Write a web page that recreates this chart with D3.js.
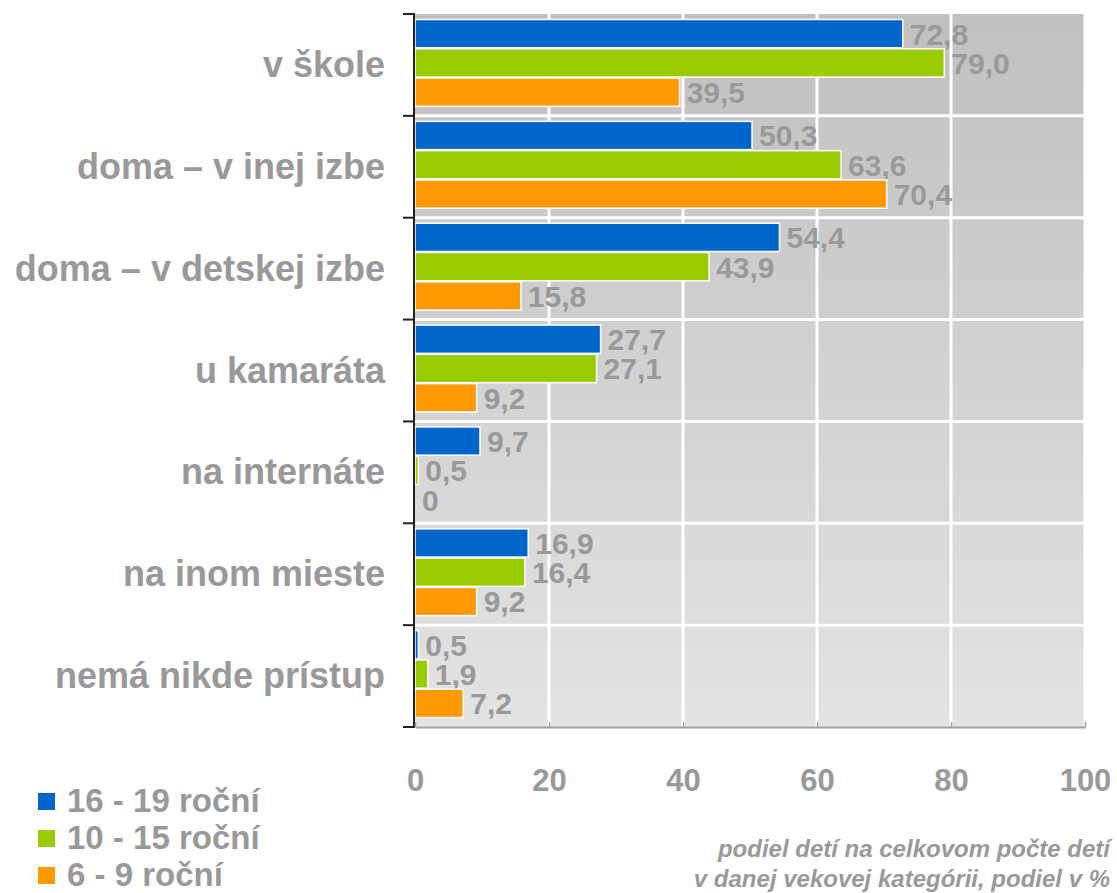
<!DOCTYPE html>
<html>
<head>
<meta charset="utf-8">
<script src="https://cdn.jsdelivr.net/npm/d3@7/dist/d3.min.js"></script>
<style>
  body { margin: 0; background: #fff; }
  svg { display: block; font-family: "Liberation Sans", Arial, sans-serif; }
</style>
</head>
<body>
<svg id="chart" width="1117" height="893"></svg>
<script>
const categories = ["v škole", "doma – v inej izbe", "doma – v detskej izbe", "u kamaráta",
  "na internáte", "na inom mieste", "nemá nikde prístup"];
const seriesNames = ["16 - 19 roční", "10 - 15 roční", "6 - 9 roční"];
const seriesColors = ["#0066cc", "#99cc00", "#ff9900"];
const values16to19 = [72.8, 50.3, 54.4, 27.7, 9.7, 16.9, 0.5];
const values10to15 = [79.0, 63.6, 43.9, 27.1, 0.5, 16.4, 1.9];
const values6to9 = [39.5, 70.4, 15.8, 9.2, 0, 9.2, 7.2];
const xTicks = [0, 20, 40, 60, 80, 100];
const axisTitle = ["podiel detí na celkovom počte detí", "v danej vekovej kategórii, podiel v %"];

const series = [values16to19, values10to15, values6to9];
const gray = "#999999";

const svg = d3.select("#chart");
const plot = { left: 415, right: 1085, top: 14, bottom: 727 };

const x = d3.scaleLinear().domain([0, 100]).range([plot.left, plot.right]);
const y0 = d3.scaleBand().domain(categories).range([plot.top, plot.bottom]);
const y1 = d3.scaleBand().domain(d3.range(series.length)).range([5.5, y0.bandwidth() - 8.5]);

// background gradient
const defs = svg.append("defs");
const grad = defs.append("linearGradient")
  .attr("id", "bg").attr("x1", 0).attr("y1", 0).attr("x2", 0).attr("y2", 1);
grad.append("stop").attr("offset", "0%").attr("stop-color", "#c0c0c0");
grad.append("stop").attr("offset", "100%").attr("stop-color", "#e3e3e3");

svg.append("rect")
  .attr("x", plot.left).attr("y", plot.top)
  .attr("width", plot.right - plot.left).attr("height", plot.bottom - plot.top)
  .attr("fill", "url(#bg)");

// white grid
svg.append("g").selectAll("line.v")
  .data(xTicks.slice(1))
  .join("line")
  .attr("x1", d => x(d)).attr("x2", d => x(d))
  .attr("y1", plot.top).attr("y2", plot.bottom)
  .attr("stroke", "#fff").attr("stroke-width", 3);

svg.append("g").selectAll("line.h")
  .data(categories.slice(1))
  .join("line")
  .attr("x1", plot.left).attr("x2", plot.right)
  .attr("y1", d => y0(d)).attr("y2", d => y0(d))
  .attr("stroke", "#fff").attr("stroke-width", 3);

// bars
const groups = svg.append("g").selectAll("g")
  .data(categories)
  .join("g")
  .attr("transform", d => "translate(0," + y0(d) + ")");

groups.each(function(cat, ci) {
  const g = d3.select(this);
  series.forEach((vals, si) => {
    const v = vals[ci];
    const yy = y1(si);
    const h = y1.bandwidth() - 1;
    if (v > 0) {
      g.append("rect")
        .attr("x", x(0))
        .attr("y", yy)
        .attr("width", x(v) - x(0))
        .attr("height", h)
        .attr("fill", seriesColors[si])
        .attr("stroke", "#fff")
        .attr("stroke-width", 1.5);
    }
    g.append("text")
      .attr("x", x(v) + 7)
      .attr("y", yy + h / 2 + 11)
      .attr("fill", gray)
      .style("font-size", "30px")
      .style("font-weight", "bold")
      .text(d3.format(v === 0 ? "d" : ".1f")(v).replace(".", ","));
  });
});

// left axis
svg.append("line")
  .attr("x1", plot.left - 1).attr("x2", plot.left - 1)
  .attr("y1", plot.top - 1).attr("y2", plot.bottom)
  .attr("stroke", "#222").attr("stroke-width", 2);

svg.append("g").selectAll("line")
  .data(categories.map(c => y0(c)).concat([plot.bottom]))
  .join("line")
  .attr("x1", plot.left - 12).attr("x2", plot.left)
  .attr("y1", d => d).attr("y2", d => d)
  .attr("stroke", "#222").attr("stroke-width", 2);

// category labels
svg.append("g").selectAll("text")
  .data(categories)
  .join("text")
  .attr("x", 385)
  .attr("y", d => y0(d) + y0.bandwidth() / 2 + 12)
  .attr("text-anchor", "end")
  .attr("fill", gray)
  .style("font-size", "36px")
  .style("font-weight", "bold")
  .text(d => d);

// bottom axis
const xAxis = svg.append("g")
  .attr("transform", "translate(0," + plot.bottom + ")")
  .call(d3.axisBottom(x).tickValues(xTicks).tickSize(-5).tickPadding(0).tickSizeOuter(0));
xAxis.select(".domain").attr("stroke", "#a0a0a0").attr("stroke-width", 2);
xAxis.selectAll(".tick line").attr("stroke", "#a0a0a0").attr("stroke-width", 1.5);
xAxis.selectAll(".tick text")
  .attr("y", 64).attr("dy", 0)
  .attr("fill", gray)
  .style("font-size", "31px")
  .style("font-weight", "bold")
  .style("font-family", "'Liberation Sans', Arial, sans-serif");

// legend
const legend = svg.append("g").selectAll("g")
  .data(seriesNames)
  .join("g")
  .attr("transform", (d, i) => "translate(38," + (812 + i * 37) + ")");
legend.append("rect")
  .attr("x", 0).attr("y", -19).attr("width", 17).attr("height", 17)
  .attr("fill", (d, i) => seriesColors[i]);
legend.append("text")
  .attr("x", 29).attr("y", 0)
  .attr("fill", gray)
  .style("font-size", "33px")
  .style("font-weight", "bold")
  .text(d => d);

// axis title
svg.append("g").selectAll("text")
  .data(axisTitle)
  .join("text")
  .attr("x", 1110)
  .attr("y", (d, i) => 857 + i * 30)
  .attr("text-anchor", "end")
  .attr("fill", gray)
  .style("font-size", "24px")
  .style("font-weight", "bold")
  .style("font-style", "italic")
  .text(d => d);
</script>
</body>
</html>
